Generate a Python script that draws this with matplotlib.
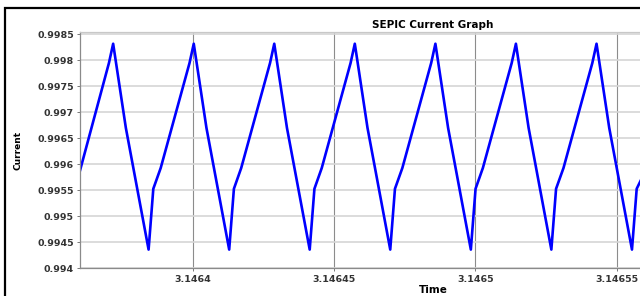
import matplotlib.pyplot as plt
from matplotlib.patches import Rectangle

# SEPIC output current
time = [
    3.14636000, 3.14637025, 3.14637174, 3.14637624, 3.14638429, 3.14638596,
    3.14638858, 3.14639879, 3.14640028, 3.14640478, 3.14641283, 3.14641450,
    3.14641709, 3.14642730, 3.14642879, 3.14643329, 3.14644134, 3.14644301,
    3.14644561, 3.14645582, 3.14645731, 3.14646181, 3.14646986, 3.14647153,
    3.14647415, 3.14648436, 3.14648585, 3.14649035, 3.14649840, 3.14650007,
    3.14650266, 3.14651287, 3.14651436, 3.14651886, 3.14652691, 3.14652858,
    3.14653121, 3.14654142, 3.14654291, 3.14654741, 3.14655546, 3.14655713,
    3.14656000,
]
current = [
    0.99588, 0.99795, 0.99832, 0.99670, 0.99436, 0.99553,
    0.99593, 0.99795, 0.99832, 0.99670, 0.99436, 0.99553,
    0.99593, 0.99795, 0.99832, 0.99670, 0.99436, 0.99553,
    0.99593, 0.99795, 0.99832, 0.99670, 0.99436, 0.99553,
    0.99593, 0.99795, 0.99832, 0.99670, 0.99436, 0.99553,
    0.99593, 0.99795, 0.99832, 0.99670, 0.99436, 0.99553,
    0.99593, 0.99795, 0.99832, 0.99670, 0.99436, 0.99553,
    0.99585,
]

y_ticks = [0.994, 0.9945, 0.995, 0.9955, 0.996, 0.9965, 0.997, 0.9975, 0.998, 0.9985]
y_labels = ['0.994', '0.9945', '0.995', '0.9955', '0.996', '0.9965',
            '0.997', '0.9975', '0.998', '0.9985']
x_ticks = [3.1464, 3.14645, 3.1465, 3.14655]
x_labels = ['3.1464', '3.14645', '3.1465', '3.14655']

fig = plt.figure(figsize=(6.4, 2.96), dpi=100)

# axes runs past the right edge (the reference is cropped there)
ax = fig.add_axes([80 / 640, 1 - 268.3 / 296, 706 / 640, 236 / 296])
ax.plot(time, current, color='#0000ff', lw=1.9)

ax.set_xlim(3.14636, 3.14661)
ax.set_ylim(0.994, 0.99854)
ax.set_xticks(x_ticks)
ax.set_xticklabels(x_labels)
ax.set_yticks(y_ticks)
ax.set_yticklabels(y_labels)

# grid: light horizontal, darker vertical
ax.yaxis.grid(True, color='#d6d6d6', lw=1.2)
ax.xaxis.grid(True, color='#8c8c8c', lw=0.8)
ax.set_axisbelow(True)

for s in ax.spines.values():
    s.set_color('#8a8a8a')
    s.set_linewidth(0.9)
ax.spines['top'].set_color('#c8c8c8')

ax.tick_params(axis='both', length=2, width=0.7, color='#777777',
               labelsize=6.8, labelcolor='#333333', pad=2.5)
for lbl in ax.get_xticklabels() + ax.get_yticklabels():
    lbl.set_fontweight('bold')

ax.set_title('SEPIC Current Graph', fontsize=7.5, fontweight='bold', pad=3)
ax.set_xlabel('Time', fontsize=7.5, fontweight='bold')
ax.set_ylabel('Current', fontsize=6.5, fontweight='bold')
ax.xaxis.set_label_coords(0.5, -0.072)
ax.yaxis.set_label_coords(-0.082, 0.5)

# black frame around the figure (top and left edges visible)
frame = Rectangle((5 / 640, -0.5), 2, 0.5 + (1 - 8 / 296), transform=fig.transFigure,
                  fill=False, ec='black', lw=1.6, clip_on=False)
fig.add_artist(frame)

fig.savefig('out.png', dpi=100)
